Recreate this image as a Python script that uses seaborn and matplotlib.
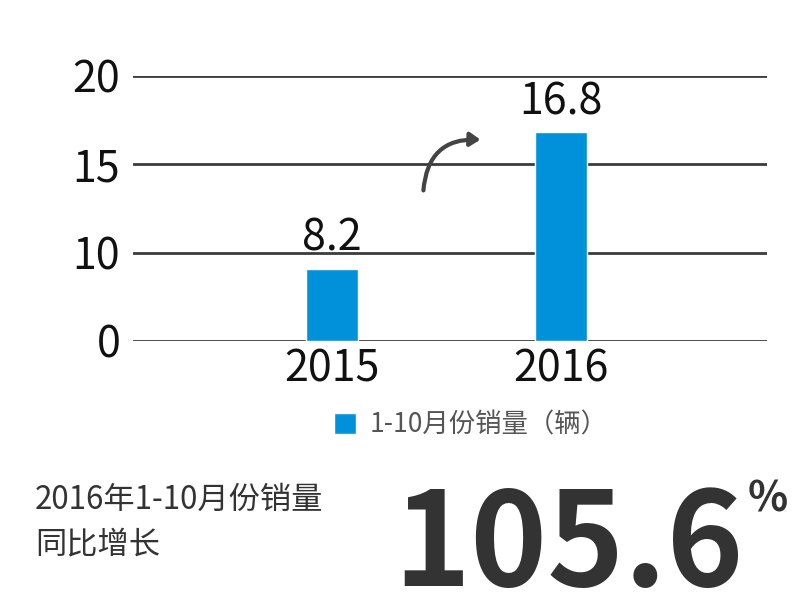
import numpy as np
import seaborn as sns
import matplotlib.pyplot as plt
from matplotlib.patches import FancyArrowPatch

years = ["2015", "2016"]
sales = [8.2, 16.8]
value_labels = ["8.2", "16.8"]
y_ticks = [0, 10, 15, 20]
legend_label = "1-10月份销量（辆）"
note_lines = ["2016年1-10月份销量", "同比增长"]
growth = "105.6"

sns.set_theme(style="white")
plt.rcParams['font.family'] = ['Noto Sans CJK SC', 'DejaVu Sans']

# the axis in the source puts 0,10,15,20 at equal steps
tick_pos = np.arange(len(y_ticks))
def fwd(v):
    return np.interp(v, y_ticks, tick_pos)
def inv(p):
    return np.interp(p, tick_pos, y_ticks)

fig = plt.figure(figsize=(8, 6), dpi=100)
ax = fig.add_axes([0.166, 0.4317, 0.7925, 0.4417])

sns.barplot(x=years, y=sales, color="#0091db", width=0.227, saturation=1,
            label=legend_label, ax=ax)
if ax.get_legend() is not None:
    ax.get_legend().remove()
ax.set_yscale('function', functions=(fwd, inv))
ax.set_ylim(0, 20)
ax.set_yticks(y_ticks)
ax.set_yticklabels([str(t) for t in y_ticks])
ax.set_xlim(-0.869, 1.90)
ax.grid(axis='y', color="#3c3c3c", linewidth=2)
ax.set_axisbelow(True)
for s in ax.spines.values():
    s.set_visible(False)
ax.tick_params(axis='both', length=0, labelsize=31, colors="#111111")
ax.tick_params(axis='y', pad=9)
ax.tick_params(axis='x', pad=5)
ax.set_xlabel("")
ax.set_ylabel("")

ax.bar_label(ax.containers[0], labels=value_labels, padding=6, fontsize=31,
             color="#111111")

handles, labels = ax.get_legend_handles_labels()
leg = fig.legend(handles, labels, loc='center left', bbox_to_anchor=(0.418, 0.292),
                 frameon=False, fontsize=19, handlelength=0.83, handleheight=0.83,
                 handletextpad=0.5, borderpad=0, borderaxespad=0)
for t in leg.get_texts():
    t.set_color("#555555")

arrow = FancyArrowPatch((0.529, 0.678), (0.604, 0.767), transform=fig.transFigure,
                        connectionstyle="arc3,rad=-0.5", arrowstyle="-|>,head_length=6,head_width=4",
                        color="#444444", linewidth=3)
fig.patches.append(arrow)

fig.text(0.044, 0.1667, note_lines[0], fontsize=22.5, color="#333333", va='center')
fig.text(0.044, 0.0917, note_lines[1], fontsize=22.5, color="#333333", va='center')
fig.text(0.492, 0.024, growth, fontsize=94, fontweight='bold', color="#333333", va='baseline')
fig.text(0.935, 0.203, "%", fontsize=30, fontweight='bold', color="#333333", va='top')

fig.savefig("out.png", dpi=100)
